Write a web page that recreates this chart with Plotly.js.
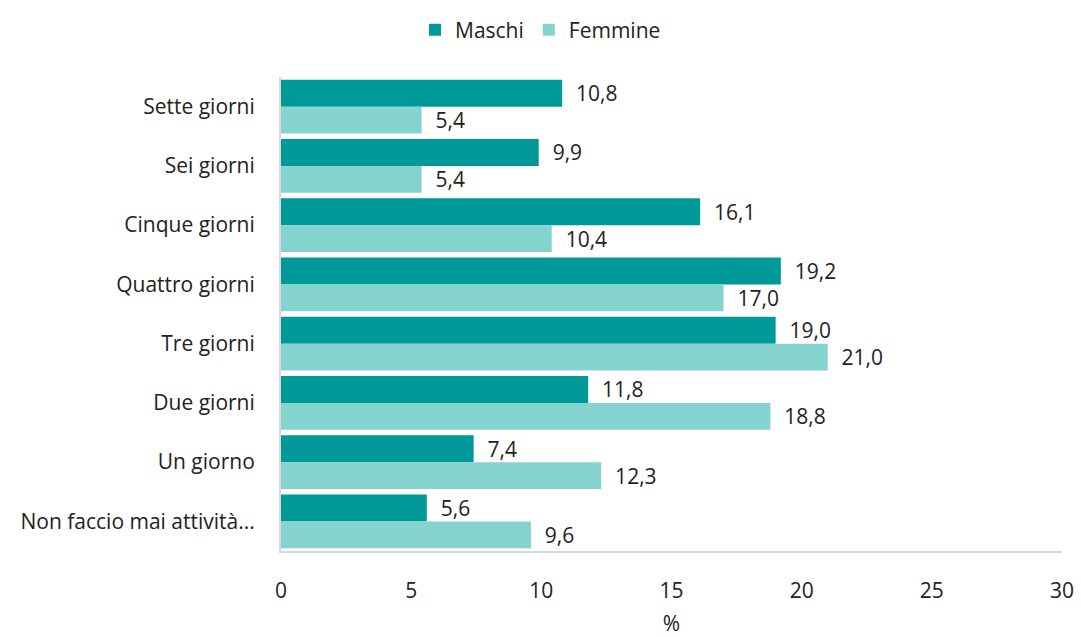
<!DOCTYPE html>
<html><head><meta charset="utf-8">
<script src="https://cdn.plot.ly/plotly-3.0.1.min.js"></script>
<style>body{margin:0;background:#fff}#c{width:1081px;height:637px}</style>
</head><body><div id="c"></div>
<script>
const categories = ["Sette giorni","Sei giorni","Cinque giorni","Quattro giorni","Tre giorni","Due giorni","Un giorno","Non faccio mai attività..."];
const maschi = [10.8, 9.9, 16.1, 19.2, 19.0, 11.8, 7.4, 5.6];
const femmine = [5.4, 5.4, 10.4, 17.0, 21.0, 18.8, 12.3, 9.6];
const xTicks = [0, 5, 10, 15, 20, 25, 30];

const FAM = "Open Sans, sans-serif";
const SZ = 21;
const font = {family: FAM, size: SZ, color: "#222"};
const tfont = {family: FAM, size: SZ, color: "#222"};
const traces = [
  {type:"bar", orientation:"h", name:"Maschi", y:categories, x:maschi,
   marker:{color:"#009999"}, texttemplate:"\u00a0\u00a0%{x:.1f}", textposition:"outside",
   constraintext:"none", textfont:tfont, cliponaxis:false, hoverinfo:"x+y"},
  {type:"bar", orientation:"h", name:"Femmine", y:categories, x:femmine,
   marker:{color:"#84D3CF"}, texttemplate:"\u00a0\u00a0%{x:.1f}", textposition:"outside",
   constraintext:"none", textfont:tfont, cliponaxis:false, hoverinfo:"x+y"}
];
const layout = {
  width:1081, height:637, separators:",.",
  font:font, paper_bgcolor:"#fff", plot_bgcolor:"#fff",
  margin:{l:281, r:19, t:77, b:86},
  barmode:"group", bargap:0.09, bargroupgap:0,
  showlegend:true,
  legend:{orientation:"h", x:0.5, xanchor:"center", xref:"container", y:0.985, yref:"container", yanchor:"top",
          font:tfont, itemwidth:30, traceorder:"normal"},
  xaxis:{range:[0,30], tickvals:xTicks, showgrid:false, zeroline:false,
         showline:true, linecolor:"#d9d9d9", linewidth:2,
         ticks:"outside", ticklen:20, tickcolor:"rgba(0,0,0,0)",
         tickfont:tfont,
         title:{text:"%", standoff:23, font:tfont}},
  yaxis:{autorange:"reversed", showgrid:false, zeroline:false,
         showline:true, linecolor:"#d9d9d9", linewidth:2,
         ticks:"outside", ticklen:20, tickcolor:"rgba(0,0,0,0)",
         tickfont:tfont}
};
Plotly.newPlot("c", traces, layout, {displayModeBar:false, staticPlot:true});
</script></body></html>
